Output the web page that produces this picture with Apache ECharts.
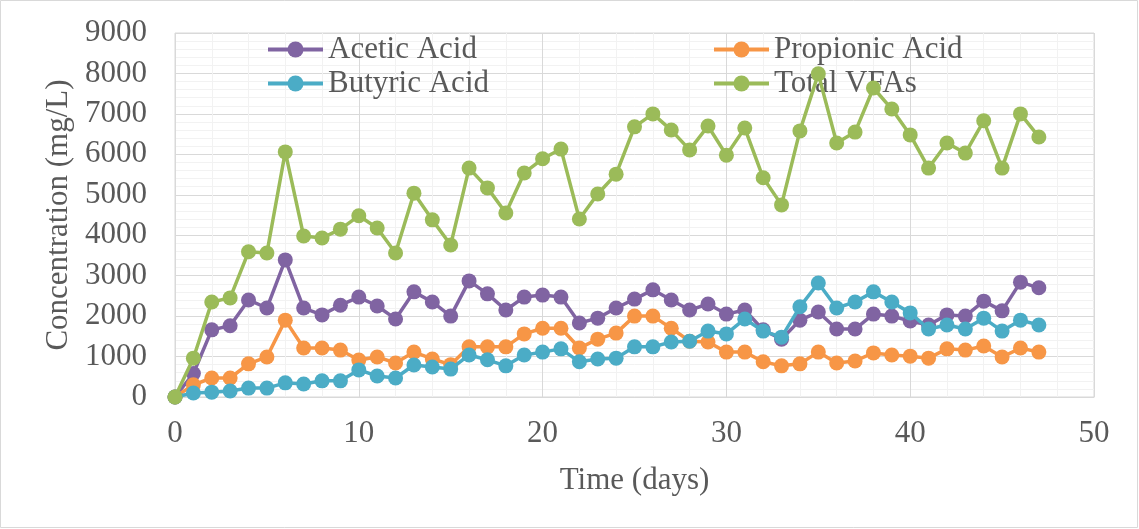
<!DOCTYPE html>
<html><head><meta charset="utf-8">
<script src="https://cdn.jsdelivr.net/npm/echarts@6/dist/echarts.min.js"></script>
<style>html,body{margin:0;padding:0;background:#fff}#c{width:1139px;height:529px}</style>
</head><body><div id="c"></div>
<script>
const days = [0,1,2,3,4,5,6,7,8,9,10,11,12,13,14,15,16,17,18,19,20,21,22,23,24,25,26,27,28,29,30,31,32,33,34,35,36,37,38,39,40,41,42,43,44,45,46,47];
const acetic = [0,580,1660,1760,2400,2200,3390,2200,2030,2270,2470,2250,1930,2600,2350,2000,2870,2550,2150,2470,2520,2470,1830,1950,2200,2420,2650,2400,2150,2300,2050,2150,1660,1430,1900,2100,1680,1680,2050,2000,1880,1780,2030,2000,2370,2130,2840,2700];
const propionic = [0,300,470,470,820,990,1900,1210,1210,1160,915,990,840,1110,940,800,1240,1240,1240,1560,1700,1700,1210,1430,1580,2000,2000,1700,1380,1360,1110,1110,870,770,820,1110,840,890,1090,1040,1010,960,1190,1160,1260,990,1210,1110];
const butyric = [0,100,120,150,220,220,350,320,400,400,670,520,470,790,740,690,1040,920,770,1040,1110,1190,870,940,960,1240,1240,1360,1380,1630,1560,1930,1630,1480,2230,2820,2200,2350,2600,2350,2080,1680,1780,1680,1950,1630,1900,1780];
const total = [0,960,2350,2450,3590,3560,6060,3980,3930,4150,4480,4180,3560,5040,4380,3760,5660,5170,4550,5540,5890,6130,4400,5020,5510,6680,7000,6600,6110,6700,5980,6650,5420,4750,6580,7990,6280,6550,7640,7120,6480,5660,6280,6030,6830,5660,7000,6430];
const names = ['Acetic Acid','Propionic Acid','Butyric Acid','Total VFAs'];
const colors = ['#8064A2','#F79646','#4BACC6','#9BBB59'];
const seriesData = [acetic, propionic, butyric, total];
const xTitle = 'Time (days)';
const yTitle = 'Concentration (mg/L)';

const font = 'Liberation Serif';
const txt = '#595959';
const chart = echarts.init(document.getElementById('c'));
const legendPos = [[266,34],[712,34],[266,68],[712,68]];
chart.setOption({
  animation:false,
  backgroundColor:'#fff',
  graphic:[{type:'rect',shape:{x:0.5,y:0.5,width:1137,height:527},style:{fill:'none',stroke:'#D9D9D9',lineWidth:1},z:-10}],
  grid:{left:175,right:45,top:33,bottom:132,show:true,borderColor:'#D9D9D9',borderWidth:1},
  legend: names.map((n,i)=>({
    left:legendPos[i][0], top:legendPos[i][1], data:[n],
    itemWidth:55, itemHeight:20, itemGap:0, padding:0,
    lineStyle:{width:4},
    textStyle:{fontFamily:font,fontSize:31,color:txt}
  })),
  xAxis:{type:'value',min:0,max:50,interval:10,
    name:xTitle,nameLocation:'middle',nameGap:68,
    nameTextStyle:{fontFamily:font,fontSize:31,color:txt},
    axisLine:{show:true,lineStyle:{color:'#D9D9D9'}},axisTick:{show:false},
    axisLabel:{fontFamily:font,fontSize:31,color:txt,margin:21},
    splitLine:{show:true,lineStyle:{color:'#D9D9D9',width:1}},
    minorTick:{show:false,splitNumber:5},
    minorSplitLine:{show:true,lineStyle:{color:'#F2F2F2',width:1}}},
  yAxis:{type:'value',min:0,max:9000,interval:1000,
    name:yTitle,nameLocation:'middle',nameGap:101,
    nameTextStyle:{fontFamily:font,fontSize:31,color:txt},
    axisLine:{show:false},axisTick:{show:false},
    axisLabel:{fontFamily:font,fontSize:31,color:txt,margin:28,formatter:v=>String(v)},
    splitLine:{show:true,lineStyle:{color:'#D9D9D9',width:1}},
    minorTick:{show:false,splitNumber:5},
    minorSplitLine:{show:true,lineStyle:{color:'#F2F2F2',width:1}}},
  series: seriesData.map((d,i)=>({
    name:names[i],type:'line',
    data:days.map((x,j)=>[x,d[j]]),
    symbol:'circle',symbolSize:15,
    itemStyle:{color:colors[i]},
    lineStyle:{color:colors[i],width:3.5},
    z:2+i
  }))
});
</script></body></html>
